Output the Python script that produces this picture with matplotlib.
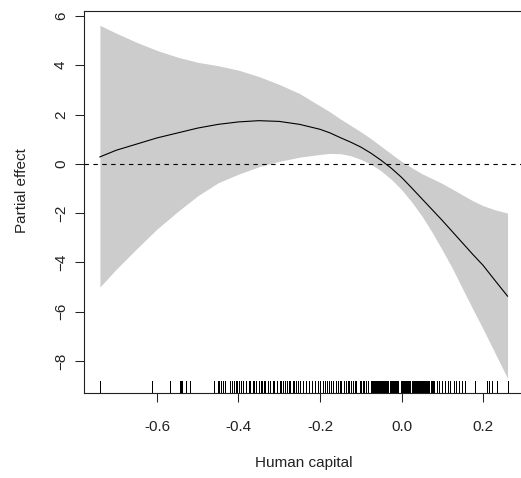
import numpy as np
import matplotlib
matplotlib.use("Agg")
import matplotlib.pyplot as plt

plt.rcParams["font.family"] = ["Liberation Sans", "DejaVu Sans"]

# smooth term: x grid, fitted partial effect, confidence band
x_grid = [-0.74, -0.70, -0.65, -0.60, -0.55, -0.50, -0.45, -0.40, -0.35, -0.30, -0.25,
          -0.20, -0.175, -0.15, -0.125, -0.10, -0.075, -0.05, -0.025, 0.00, 0.025,
          0.05, 0.075, 0.10, 0.125, 0.15, 0.175, 0.20, 0.23, 0.26]
fit = [0.28, 0.55, 0.80, 1.05, 1.25, 1.45, 1.60, 1.70, 1.75, 1.72, 1.60,
       1.40, 1.25, 1.06, 0.88, 0.68, 0.43, 0.14, -0.18, -0.55, -0.98,
       -1.42, -1.86, -2.30, -2.76, -3.22, -3.68, -4.12, -4.75, -5.37]
upper = [5.62, 5.30, 4.93, 4.60, 4.33, 4.12, 3.98, 3.80, 3.54, 3.22, 2.85,
         2.35, 2.10, 1.82, 1.56, 1.30, 1.02, 0.71, 0.40, 0.10, -0.16,
         -0.40, -0.60, -0.80, -1.03, -1.27, -1.50, -1.70, -1.87, -2.00]
lower = [-5.00, -4.28, -3.45, -2.65, -1.95, -1.30, -0.77, -0.42, -0.12, 0.10, 0.27,
         0.38, 0.42, 0.41, 0.33, 0.18, -0.02, -0.29, -0.63, -1.05, -1.55,
         -2.12, -2.78, -3.50, -4.25, -5.08, -5.90, -6.70, -7.70, -8.70]

# observed human capital values (rug)
rug_x = [
    -0.739, -0.612, -0.568, -0.543, -0.540, -0.538, -0.530, -0.520,
    -0.459, -0.451, -0.447, -0.442, -0.439, -0.434, -0.420, -0.415, -0.412, -0.407,
    -0.403, -0.399, -0.393, -0.389, -0.381, -0.375, -0.371, -0.365, -0.361, -0.357,
    -0.350, -0.346, -0.342, -0.338, -0.334, -0.328, -0.322, -0.316, -0.312, -0.306,
    -0.299, -0.295, -0.291, -0.287, -0.282, -0.277, -0.273, -0.267, -0.263, -0.258,
    -0.253, -0.248, -0.242, -0.234, -0.226, -0.220, -0.213, -0.205, -0.201, -0.193,
    -0.189, -0.183, -0.178, -0.173, -0.169, -0.162, -0.156, -0.152, -0.148, -0.140,
    -0.136, -0.132, -0.128, -0.123, -0.120, -0.115, -0.111, -0.103, -0.099, -0.095,
    -0.091, -0.087, -0.083,
    -0.075, -0.0725, -0.070, -0.0675, -0.065, -0.0625, -0.060, -0.0575, -0.055,
    -0.0525, -0.050, -0.0475, -0.045, -0.0425, -0.040, -0.0375, -0.035, -0.0325,
    -0.0275, -0.025, -0.0225, -0.020, -0.0175, -0.015, -0.0125, -0.010, -0.0075,
    -0.0025, 0.000, 0.0025, 0.005, 0.0075, 0.010, 0.0125, 0.015, 0.0175, 0.020,
    0.025, 0.0275, 0.030, 0.0325, 0.035, 0.0375, 0.040, 0.0425, 0.045,
    0.048, 0.0505, 0.053, 0.0555, 0.058, 0.0605, 0.063, 0.0655, 0.068,
    0.0725, 0.075, 0.0775, 0.080,
    0.087, 0.093, 0.100, 0.107, 0.114, 0.120, 0.128, 0.134, 0.141, 0.148, 0.155,
    0.181, 0.209, 0.214, 0.223, 0.234, 0.260,
]

x_ticks = [-0.6, -0.4, -0.2, 0.0, 0.2]
x_tick_labels = ["-0.6", "-0.4", "-0.2", "0.0", "0.2"]
y_ticks = [-8, -6, -4, -2, 0, 2, 4, 6]

W, H = 521, 478
fig = plt.figure(figsize=(W / 100, H / 100), dpi=100)
# axes box: left 84px, top 11px, bottom 393px; right edge falls just outside the image
ax = fig.add_axes([84 / W, (H - 393) / H, 440.25 / W, 382 / H])

ax.fill_between(x_grid, lower, upper, color="#cccccc", linewidth=0)
ax.plot(x_grid, fit, color="black", linewidth=0.8)
ax.axhline(0, color="black", linewidth=0.8, dashes=(4, 4))
ax.vlines(rug_x, 0, 0.031, transform=ax.get_xaxis_transform(),
          color="black", linewidth=0.5, antialiased=False)

ax.set_xlim(-0.779, 0.301)
ax.set_ylim(-9.30, 6.20)
ax.set_xticks(x_ticks)
ax.set_xticklabels(x_tick_labels)
ax.set_yticks(y_ticks)

for side in ["left", "bottom", "top"]:
    ax.spines[side].set_linewidth(0.8)
    ax.spines[side].set_color("#222222")
ax.spines["right"].set_visible(False)

ax.tick_params(direction="out", length=6.5, width=0.75, colors="#222222",
               labelsize=11, labelcolor="#222222")
ax.tick_params(axis="x", pad=13)
ax.tick_params(axis="y", pad=5, labelrotation=90)
for lab in ax.get_yticklabels():
    lab.set_verticalalignment("center")

fig.text(304 / W, 1 - 463 / H, "Human capital", ha="center", va="center",
         fontsize=11, color="#222222")
fig.text(22 / W, 1 - 191 / H, "Partial effect", ha="center", va="center",
         rotation=90, fontsize=11, color="#222222")

fig.savefig("out.png", dpi=100)
